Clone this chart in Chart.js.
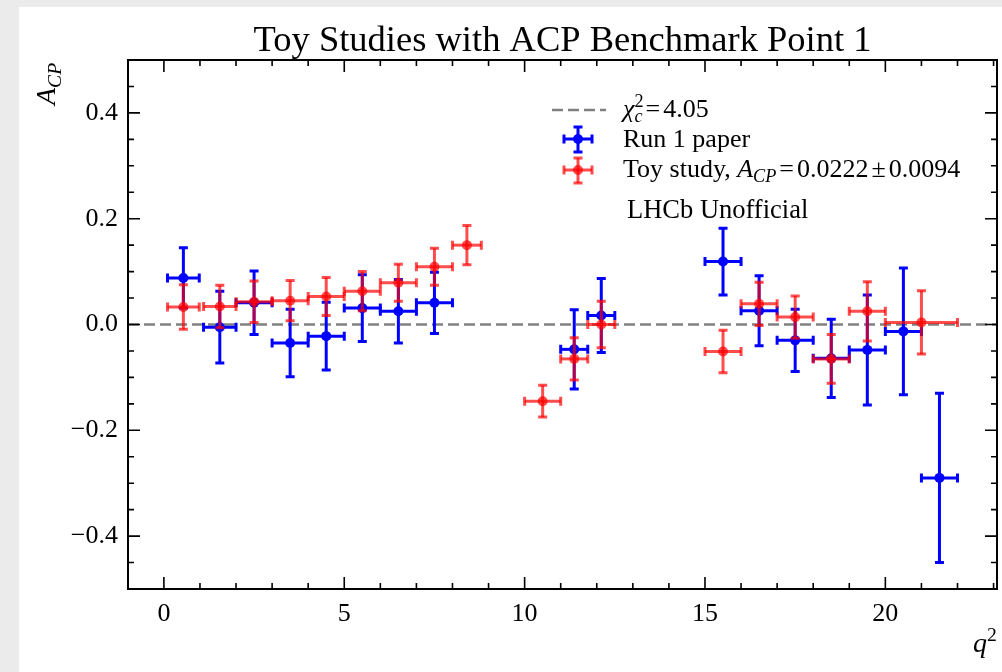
<!DOCTYPE html>
<html>
<head>
<meta charset="utf-8">
<title>Toy Studies with ACP Benchmark Point 1</title>
<script src="https://cdn.jsdelivr.net/npm/chart.js@4.4.1/dist/chart.umd.min.js"></script>
<style>
    html, body { margin: 0; padding: 0; background: #ebebeb; }
    #panel { position: absolute; left: 19px; top: 7px; width: 983px; height: 665px; background: #ffffff; }
</style>
</head>
<body>
<div id="panel"><canvas id="acpChart" width="983" height="665"></canvas></div>
<script>
    // q^2 bins and A_CP values, Run 1 paper
    const runLo = [0.1, 1.1, 2, 3, 4, 5, 6, 7, 11, 11.75, 15, 16, 17, 18, 19, 20, 21];
    const runHi = [0.98, 2, 3, 4, 5, 6, 7, 8, 11.75, 12.5, 16, 17, 18, 19, 20, 21, 22];
    const runAcp = [0.088, -0.005, 0.041, -0.035, -0.022, 0.031, 0.025, 0.041, -0.047, 0.017, 0.119, 0.026, -0.030, -0.064, -0.048, -0.013, -0.290];
    const runErr = [0.057, 0.068, 0.060, 0.064, 0.064, 0.063, 0.060, 0.058, 0.075, 0.070, 0.063, 0.066, 0.059, 0.074, 0.104, 0.120, 0.160];

    // toy study bins and fitted A_CP
    const toyLo = [0.1, 1.1, 2, 3, 4, 5, 6, 7, 8, 10, 11, 11.75, 15, 16, 17, 18, 19, 20];
    const toyHi = [0.98, 2, 3, 4, 5, 6, 7, 8, 8.8, 11, 11.75, 12.5, 16, 17, 18, 19, 20, 22];
    const toyAcp = [0.033, 0.034, 0.043, 0.045, 0.053, 0.063, 0.079, 0.109, 0.150, -0.145, -0.065, 0.000, -0.051, 0.039, 0.014, -0.065, 0.025, 0.004];
    const toyErr = [0.042, 0.040, 0.039, 0.038, 0.036, 0.037, 0.035, 0.035, 0.037, 0.030, 0.040, 0.044, 0.040, 0.041, 0.040, 0.046, 0.056, 0.060];

    const xTicks = [0, 5, 10, 15, 20];
    const yTicks = [-0.4, -0.2, 0.0, 0.2, 0.4];
    const xRange = [-0.995, 23.095];
    const yRange = [-0.5, 0.5];

    const FONT = '"Liberation Serif", "DejaVu Serif", serif';
    const BLUE = 'rgb(0,0,255)';
    const RED = 'rgba(255,0,0,0.7)';
    const DASH = [11, 5];
    const BAR_WIDTH = 3;
    const CAP = 4.5;
    const MARKER = 5;

    function points(lo, hi, vals, errs) {
        return vals.map((v, i) => ({ x: (lo[i] + hi[i]) / 2, y: v, xlo: lo[i], xhi: hi[i], dy: errs[i] }));
    }

    // one errorbar cross with caps
    function drawCross(ctx, px, py, x0, x1, y0, y1, cap) {
        ctx.beginPath();
        ctx.moveTo(x0, py); ctx.lineTo(x1, py);
        ctx.stroke();
        ctx.beginPath();
        ctx.moveTo(px, y0); ctx.lineTo(px, y1);
        ctx.stroke();
        ctx.beginPath();
        ctx.moveTo(x0, py - cap); ctx.lineTo(x0, py + cap);
        ctx.moveTo(x1, py - cap); ctx.lineTo(x1, py + cap);
        ctx.moveTo(px - cap, y0); ctx.lineTo(px + cap, y0);
        ctx.moveTo(px - cap, y1); ctx.lineTo(px + cap, y1);
        ctx.stroke();
    }

    const errorBars = {
        id: 'errorBars',
        beforeDatasetDraw(chart, args) {
            const ds = chart.data.datasets[args.index];
            if (!ds.errorBars) return;
            const { ctx, scales: { x, y } } = chart;
            ctx.save();
            ctx.strokeStyle = ds.backgroundColor;
            ctx.lineWidth = BAR_WIDTH;
            ds.data.forEach(p => {
                drawCross(ctx,
                    x.getPixelForValue(p.x), y.getPixelForValue(p.y),
                    x.getPixelForValue(p.xlo), x.getPixelForValue(p.xhi),
                    y.getPixelForValue(p.y + p.dy), y.getPixelForValue(p.y - p.dy), CAP);
            });
            ctx.restore();
        }
    };

    // text with italic / sub / superscript pieces
    function drawParts(ctx, parts, x, y, size) {
        let cx = x;
        for (const p of parts) {
            const small = p.sub || p.sup;
            const s = small ? size * 0.7 : size;
            ctx.font = (p.it ? 'italic ' : '') + s + 'px ' + FONT;
            const dy = p.sub ? size * 0.2 : (p.sup ? -size * 0.4 : 0);
            cx += p.pre || 0;
            ctx.fillText(p.t, cx, y + dy);
            if (!p.stack) cx += ctx.measureText(p.t).width;
            cx += p.post || 0;
        }
        return cx - x;
    }

    // frame, inward ticks, title, axis labels, legend
    const decorations = {
        id: 'decorations',
        afterDraw(chart) {
            const { ctx, chartArea: a, scales: { x, y } } = chart;
            ctx.save();
            ctx.strokeStyle = '#000';
            ctx.lineWidth = 2;
            ctx.strokeRect(a.left, a.top, a.right - a.left, a.bottom - a.top);

            ctx.lineWidth = 1.6;
            ctx.beginPath();
            for (let v = -1; v <= 23; v++) {
                const px = x.getPixelForValue(v);
                if (px < a.left + 1 || px > a.right - 1) continue;
                const len = v % 5 === 0 ? 12 : 6;
                ctx.moveTo(px, a.bottom); ctx.lineTo(px, a.bottom - len);
                ctx.moveTo(px, a.top); ctx.lineTo(px, a.top + len);
            }
            for (let k = -10; k <= 10; k++) {
                const v = k * 0.05;
                const py = y.getPixelForValue(v);
                if (py < a.top + 1 || py > a.bottom - 1) continue;
                const len = k % 4 === 0 ? 12 : 6;
                ctx.moveTo(a.left, py); ctx.lineTo(a.left + len, py);
                ctx.moveTo(a.right, py); ctx.lineTo(a.right - len, py);
            }
            ctx.stroke();

            ctx.fillStyle = '#000';
            ctx.textBaseline = 'alphabetic';
            ctx.textAlign = 'center';
            ctx.font = '36.5px ' + FONT;
            ctx.fillText('Toy Studies with ACP Benchmark Point 1', (a.left + a.right) / 2, 44);

            ctx.textAlign = 'left';
            // y axis label, reading upwards
            ctx.save();
            ctx.translate(36, 98);
            ctx.rotate(-Math.PI / 2);
            drawParts(ctx, [{ t: 'A', it: true }, { t: 'CP', it: true, sub: true }], 0, 0, 28);
            ctx.restore();
            // x axis label
            drawParts(ctx, [{ t: 'q', it: true }, { t: '2', sup: true }], 954, 645, 28);

            // legend
            const lx = 559, tx = 604, size = 26;
            ctx.save();
            ctx.strokeStyle = '#808080';
            ctx.lineWidth = 2.5;
            ctx.setLineDash(DASH);
            ctx.beginPath();
            ctx.moveTo(533, 103); ctx.lineTo(587, 103);
            ctx.stroke();
            ctx.restore();
            drawParts(ctx, [{ t: 'χ', it: true }, { t: '2', sup: true, stack: true }, { t: 'c', it: true, sub: true },
                { t: '=', pre: 3, post: 3 }, { t: '4.05' }], tx, 110, size);

            ctx.lineWidth = BAR_WIDTH;
            ctx.strokeStyle = BLUE;
            drawCross(ctx, lx, 132, lx - 14, lx + 14, 120, 145, CAP);
            ctx.fillStyle = BLUE;
            ctx.beginPath(); ctx.arc(lx, 132, MARKER, 0, Math.PI * 2); ctx.fill();
            ctx.fillStyle = '#000';
            drawParts(ctx, [{ t: 'Run 1 paper' }], tx, 140, size);

            ctx.strokeStyle = RED;
            drawCross(ctx, lx, 163, lx - 14, lx + 14, 151, 176, CAP);
            ctx.fillStyle = RED;
            ctx.beginPath(); ctx.arc(lx, 163, MARKER, 0, Math.PI * 2); ctx.fill();
            ctx.fillStyle = '#000';
            drawParts(ctx, [{ t: 'Toy study, ' }, { t: 'A', it: true }, { t: 'CP', it: true, sub: true },
                { t: '=', pre: 3, post: 3 }, { t: '0.0222' }, { t: '±', pre: 3, post: 3 }, { t: '0.0094' }], tx, 170, size);

            drawParts(ctx, [{ t: 'LHCb Unofficial' }], 608, 211, 26.5);
            ctx.restore();
        }
    };

    const ctx = document.getElementById('acpChart');
    new Chart(ctx, {
        type: 'scatter',
        data: {
            datasets: [
                {
                    label: 'Toy study',
                    data: points(toyLo, toyHi, toyAcp, toyErr),
                    backgroundColor: RED,
                    borderWidth: 0,
                    pointRadius: MARKER,
                    errorBars: true
                },
                {
                    label: 'Run 1 paper',
                    data: points(runLo, runHi, runAcp, runErr),
                    backgroundColor: BLUE,
                    borderWidth: 0,
                    pointRadius: MARKER,
                    errorBars: true
                },
                {
                    label: 'chi2',
                    type: 'line',
                    data: [{ x: xRange[0], y: 0 }, { x: xRange[1], y: 0 }],
                    borderColor: '#808080',
                    borderWidth: 2.5,
                    borderDash: DASH,
                    pointRadius: 0
                }
            ]
        },
        options: {
            responsive: false,
            animation: false,
            events: [],
            layout: { padding: { left: 0, top: 53, right: 5, bottom: 0 } },
            plugins: {
                legend: { display: false },
                tooltip: { enabled: false },
                title: { display: false }
            },
            scales: {
                x: {
                    type: 'linear',
                    min: xRange[0],
                    max: xRange[1],
                    grid: { display: false, drawTicks: false },
                    border: { display: false },
                    afterBuildTicks: s => { s.ticks = xTicks.map(v => ({ value: v })); },
                    afterFit: s => { s.height = 83; },
                    ticks: {
                        padding: 10,
                        color: '#000',
                        font: { family: FONT, size: 26 },
                        callback: v => String(v)
                    }
                },
                y: {
                    type: 'linear',
                    min: yRange[0],
                    max: yRange[1],
                    grid: { display: false, drawTicks: false },
                    border: { display: false },
                    afterBuildTicks: s => { s.ticks = yTicks.map(v => ({ value: v })); },
                    afterFit: s => { s.width = 109; },
                    ticks: {
                        padding: 10,
                        color: '#000',
                        font: { family: FONT, size: 26 },
                        callback: v => (v < -1e-9 ? '\u2212' : '') + Math.abs(v).toFixed(1)
                    }
                }
            }
        },
        plugins: [errorBars, decorations]
    });
</script>
</body>
</html>
